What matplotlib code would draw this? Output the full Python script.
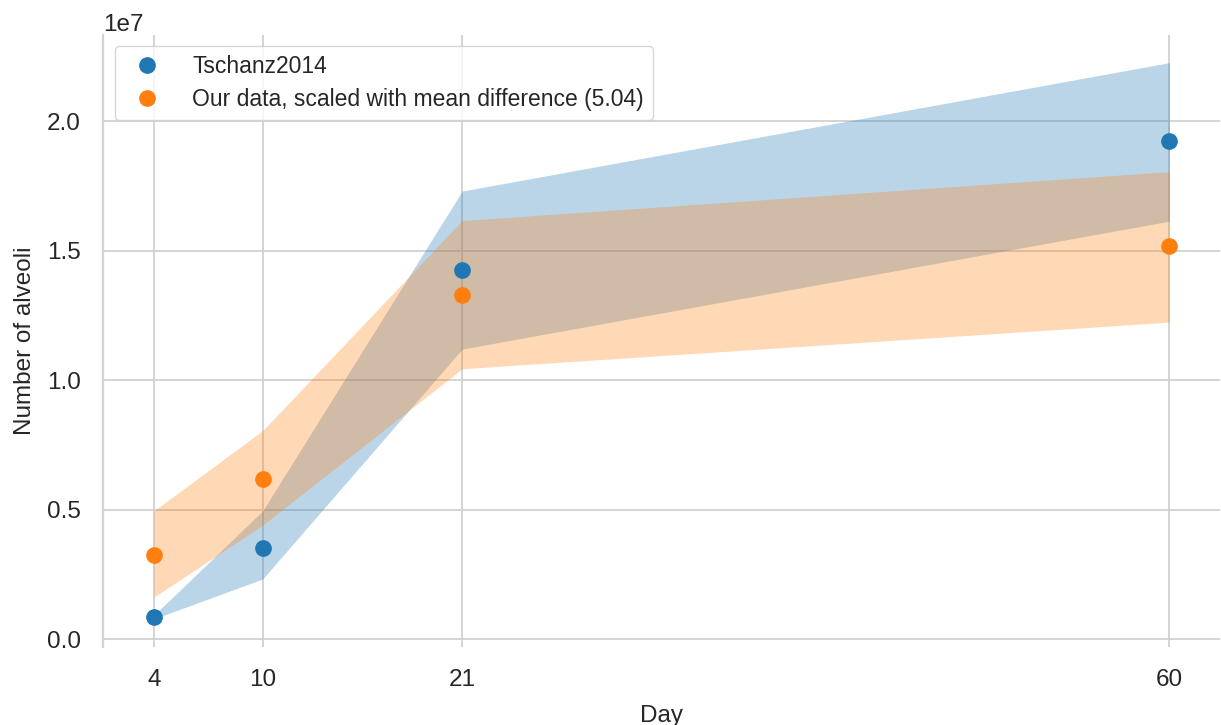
"""Alveoli count over time: Tschanz2014 reference vs. our scaled data."""
import matplotlib

matplotlib.use("Agg")
import matplotlib.pyplot as plt
import seaborn as sns

days = [4, 10, 21, 60]

# Tschanz2014 mean and spread
tschanz_mean = [0.085e7, 0.351e7, 1.426e7, 1.925e7]
tschanz_low = [0.078e7, 0.232e7, 1.120e7, 1.614e7]
tschanz_high = [0.092e7, 0.495e7, 1.730e7, 2.226e7]

# our data, scaled with mean difference
ours_mean = [0.324e7, 0.618e7, 1.329e7, 1.516e7]
ours_low = [0.162e7, 0.440e7, 1.044e7, 1.224e7]
ours_high = [0.495e7, 0.805e7, 1.616e7, 1.805e7]

scale_factor = 5.04

BLUE = "#1f77b4"
ORANGE = "#ff7f0e"
FS = 17.5

sns.set_theme(style="whitegrid")
plt.rcParams["font.family"] = ["Liberation Sans", "DejaVu Sans"]
plt.rcParams["font.size"] = FS

fig = plt.figure(figsize=(12.21, 7.25), dpi=100)
ax = fig.add_axes([0.0844, 0.108, 0.915, 0.844])

ax.fill_between(days, tschanz_low, tschanz_high, color=BLUE, alpha=0.3, lw=0)
ax.fill_between(days, ours_low, ours_high, color=ORANGE, alpha=0.3, lw=0)
ax.plot(days, tschanz_mean, "o", color=BLUE, ms=11, label="Tschanz2014")
ax.plot(days, ours_mean, "o", color=ORANGE, ms=11,
        label=f"Our data, scaled with mean difference ({scale_factor:.2f})")

ax.set_xticks(days)
ax.set_xlabel("Day", fontsize=FS, labelpad=10)
ax.set_ylabel("Number of alveoli", fontsize=FS, labelpad=8)
ax.tick_params(labelsize=FS, pad=10)
ax.yaxis.get_offset_text().set_fontsize(FS)
ax.grid(True, color=".82", lw=1.3)

for side in ("top", "right", "bottom"):
    ax.spines[side].set_visible(False)
ax.spines["left"].set_color(".82")
ax.spines["left"].set_linewidth(1.6)

ax.legend(loc="upper left", fontsize=16.5, handletextpad=1.0, borderpad=0.4,
          labelspacing=0.4, borderaxespad=0.5)

fig.savefig("out.png", dpi=100)
